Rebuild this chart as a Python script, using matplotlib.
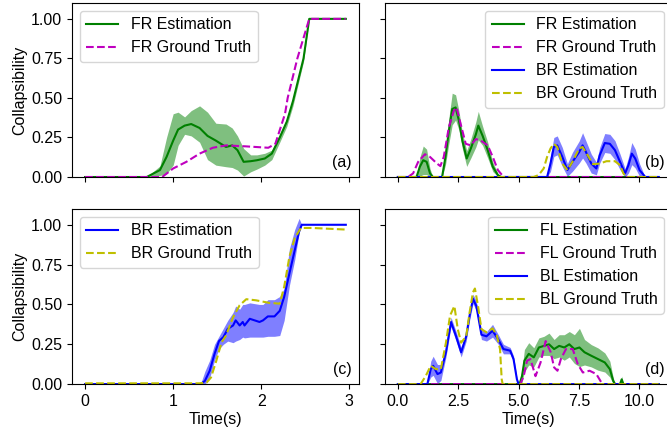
import numpy as np
import matplotlib
matplotlib.use("Agg")
import matplotlib.pyplot as plt

plt.rcParams['font.family'] = ['Liberation Sans', 'DejaVu Sans']
plt.rcParams['font.size'] = 11.5

# ---------------- (a) front right, short run ----------------
a_est_t = [0.0, 0.70, 0.85, 0.925, 1.0, 1.056, 1.13, 1.205, 1.30, 1.39, 1.485, 1.60, 1.67,
           1.73, 1.80, 1.88, 1.95, 2.04, 2.12, 2.21, 2.29, 2.36, 2.48, 2.545, 2.96]
a_est_v = [0.0, 0.0, 0.044, 0.127, 0.23, 0.30, 0.325, 0.335, 0.31, 0.26, 0.23, 0.19, 0.20,
           0.17, 0.096, 0.10, 0.106, 0.117, 0.148, 0.25, 0.35, 0.48, 0.75, 1.0, 1.0]
a_est_lo = [0.0, 0.0, 0.01, 0.02, 0.075, 0.20, 0.27, 0.26, 0.22, 0.11, 0.075, 0.065, 0.06,
            0.044, 0.006, 0.033, 0.05, 0.075, 0.11, 0.22, 0.32, 0.45, 0.73, 1.0, 1.0]
a_est_hi = [0.0, 0.0, 0.07, 0.25, 0.40, 0.41, 0.38, 0.42, 0.45, 0.41, 0.34, 0.335, 0.31,
            0.26, 0.18, 0.14, 0.14, 0.15, 0.17, 0.27, 0.37, 0.50, 0.77, 1.0, 1.0]
a_gt_t = [0.0, 0.875, 1.0, 1.15, 1.30, 1.45, 1.60, 1.82, 2.08, 2.16, 2.27, 2.30, 2.41, 2.545, 2.96]
a_gt_v = [0.0, 0.0, 0.054, 0.096, 0.148, 0.185, 0.20, 0.194, 0.185, 0.21, 0.40, 0.50, 0.75, 1.0, 1.0]

# ---------------- (b) right side, long run ----------------
b_fr_t = [0.0, 0.77, 0.91, 1.05, 1.19, 1.33, 1.45, 1.83, 1.97, 2.11, 2.25, 2.39, 2.53, 2.67,
          2.85, 3.02, 3.23, 3.33, 3.51, 3.72, 3.93, 4.14, 4.28, 10.8]
b_fr_v = [0.0, 0.0, 0.065, 0.106, 0.096, 0.023, 0.0, 0.0, 0.127, 0.29, 0.43, 0.44, 0.356, 0.23,
          0.117, 0.18, 0.27, 0.325, 0.26, 0.17, 0.065, 0.0125, 0.0, 0.0]
b_fr_sd = [0.0, 0.0, 0.06, 0.09, 0.08, 0.03, 0.0, 0.0, 0.05, 0.08, 0.10, 0.08, 0.06, 0.05,
           0.05, 0.06, 0.08, 0.09, 0.06, 0.05, 0.03, 0.01, 0.0, 0.0]
b_fr_gt_t = [0.0, 0.42, 0.63, 0.84, 1.12, 1.33, 1.62, 1.76, 1.90, 2.11, 2.32, 2.43, 2.60, 2.81,
             3.02, 3.23, 3.44, 3.72, 3.93, 4.14, 4.35, 4.45, 10.8]
b_fr_gt_v = [0.0, 0.0, 0.023, 0.096, 0.144, 0.127, 0.085, 0.069, 0.127, 0.315, 0.42, 0.44, 0.335,
             0.21, 0.20, 0.24, 0.23, 0.20, 0.127, 0.044, 0.006, 0.0, 0.0]
b_br_t = [0.0, 6.18, 6.32, 6.46, 6.60, 6.81, 7.02, 7.23, 7.51, 7.65, 7.79, 8.01, 8.22, 8.36,
          8.57, 8.78, 8.99, 9.20, 9.41, 9.55, 9.69, 9.83, 10.01, 10.18, 10.25, 10.8]
b_br_v = [0.0, 0.0, 0.085, 0.19, 0.20, 0.127, 0.044, 0.096, 0.158, 0.20, 0.158, 0.085, 0.054,
          0.1375, 0.215, 0.21, 0.17, 0.096, 0.023, 0.075, 0.148, 0.117, 0.044, 0.0125, 0.0, 0.0]
b_br_sd = [0.0, 0.0, 0.05, 0.06, 0.06, 0.06, 0.04, 0.06, 0.07, 0.08, 0.07, 0.06, 0.04, 0.05,
           0.06, 0.06, 0.06, 0.05, 0.03, 0.05, 0.07, 0.06, 0.04, 0.01, 0.0, 0.0]
b_br_gt_t = [0.0, 5.62, 5.83, 6.04, 6.18, 6.32, 6.46, 6.60, 6.81, 7.02, 7.23, 7.51, 7.65, 7.86,
             8.08, 8.36, 8.64, 8.99, 9.20, 9.34, 9.48, 10.8]
b_br_gt_v = [0.0, 0.0, 0.0125, 0.054, 0.127, 0.18, 0.21, 0.19, 0.085, 0.044, 0.096, 0.18, 0.19,
             0.1375, 0.081, 0.085, 0.10, 0.10, 0.075, 0.023, 0.0, 0.0]

# ---------------- (c) back right, short run ----------------
c_est_t = [0.0, 1.31, 1.36, 1.415, 1.47, 1.52, 1.57, 1.62, 1.68, 1.71, 1.755, 1.79, 1.81, 1.87,
           1.98, 2.02, 2.075, 2.15, 2.21, 2.26, 2.32, 2.38, 2.43, 2.46, 2.96]
c_est_v = [0.0, 0.0, 0.02, 0.084, 0.19, 0.27, 0.295, 0.347, 0.368, 0.40, 0.368, 0.39, 0.368,
           0.41, 0.39, 0.40, 0.425, 0.425, 0.46, 0.547, 0.695, 0.84, 0.958, 1.0, 1.0]
c_est_lo = [0.0, 0.0, 0.0, 0.04, 0.15, 0.22, 0.25, 0.27, 0.26, 0.27, 0.28, 0.295, 0.29, 0.295,
            0.295, 0.295, 0.30, 0.30, 0.305, 0.40, 0.62, 0.78, 0.95, 1.0, 1.0]
c_est_hi = [0.0, 0.0, 0.08, 0.15, 0.25, 0.30, 0.35, 0.40, 0.45, 0.49, 0.47, 0.50, 0.50, 0.51,
            0.50, 0.50, 0.53, 0.53, 0.55, 0.60, 0.85, 0.97, 1.04, 1.0, 1.0]
c_gt_t = [0.0, 1.30, 1.38, 1.43, 1.49, 1.55, 1.60, 1.68, 1.755, 1.83, 1.94, 2.09, 2.21, 2.26,
          2.32, 2.38, 2.45, 2.58, 2.96]
c_gt_v = [0.005, 0.005, 0.01, 0.042, 0.147, 0.263, 0.305, 0.42, 0.495, 0.533, 0.526, 0.51, 0.505,
          0.61, 0.80, 0.916, 0.98, 0.98, 0.97]

# ---------------- (d) left side, long run ----------------
d_fl_t = [0.0, 5.04, 5.14, 5.24, 5.42, 5.63, 5.84, 6.05, 6.26, 6.47, 6.68, 6.89, 7.10, 7.31,
          7.52, 7.73, 8.01, 8.29, 8.57, 8.78, 8.92, 9.0, 9.2, 9.27, 9.34, 10.8]
d_fl_v = [0.0, 0.0, 0.05, 0.147, 0.19, 0.168, 0.23, 0.24, 0.25, 0.22, 0.24, 0.23, 0.25, 0.22,
          0.23, 0.20, 0.178, 0.157, 0.136, 0.094, 0.02, 0.0, 0.0, 0.03, 0.0, 0.0]
d_fl_sd = [0.0, 0.0, 0.04, 0.07, 0.07, 0.06, 0.06, 0.06, 0.07, 0.06, 0.07, 0.08, 0.08, 0.09,
           0.12, 0.08, 0.07, 0.07, 0.06, 0.05, 0.02, 0.0, 0.0, 0.02, 0.0, 0.0]
d_fl_gt_t = [0.0, 5.07, 5.21, 5.35, 5.49, 5.70, 5.91, 6.12, 6.33, 6.47, 6.61, 6.75, 6.96, 7.24,
             7.45, 7.66, 7.94, 8.22, 8.43, 8.5, 10.8]
d_fl_gt_v = [0.0, 0.0, 0.05, 0.147, 0.157, 0.05, 0.136, 0.27, 0.20, 0.105, 0.084, 0.157, 0.22,
             0.22, 0.126, 0.073, 0.084, 0.063, 0.01, 0.0, 0.0]
d_bl_t = [0.0, 1.22, 1.36, 1.46, 1.64, 1.78, 1.99, 2.20, 2.41, 2.62, 2.83, 2.97, 3.11, 3.25,
          3.46, 3.67, 3.92, 4.16, 4.37, 4.65, 4.79, 4.93, 5.0, 10.8]
d_bl_v = [0.0, 0.0, 0.094, 0.115, 0.063, 0.073, 0.20, 0.39, 0.30, 0.20, 0.30, 0.43, 0.535, 0.49,
          0.31, 0.30, 0.335, 0.28, 0.22, 0.21, 0.157, 0.03, 0.0, 0.0]
d_bl_sd = [0.0, 0.0, 0.05, 0.06, 0.06, 0.05, 0.03, 0.03, 0.03, 0.03, 0.03, 0.03, 0.03, 0.03,
           0.03, 0.03, 0.04, 0.03, 0.03, 0.02, 0.02, 0.01, 0.0, 0.0]
d_bl_gt_t = [0.0, 0.94, 1.15, 1.36, 1.57, 1.78, 1.99, 2.16, 2.34, 2.48, 2.62, 2.83, 2.97, 3.11,
             3.19, 3.32, 3.46, 3.67, 3.92, 4.09, 4.23, 4.30, 4.34, 10.8]
d_bl_gt_v = [0.0, 0.0, 0.05, 0.115, 0.094, 0.094, 0.26, 0.43, 0.49, 0.345, 0.26, 0.30, 0.45,
             0.577, 0.60, 0.49, 0.345, 0.325, 0.35, 0.31, 0.22, 0.03, 0.0, 0.0]


def band(ax, t, v, sd, color):
    v, sd = np.array(v), np.array(sd)
    ax.fill_between(t, np.clip(v - sd, 0, None), v + sd, color=color, alpha=0.5, lw=0)


fig = plt.figure(figsize=(6.67, 4.36), dpi=100)
ax_a = fig.add_axes([0.108, 0.594, 0.430, 0.399])
ax_b = fig.add_axes([0.577, 0.594, 0.430, 0.399])
ax_c = fig.add_axes([0.108, 0.119, 0.430, 0.402])
ax_d = fig.add_axes([0.577, 0.119, 0.430, 0.402])

# (a)
ax_a.fill_between(a_est_t, a_est_lo, a_est_hi, color='g', alpha=0.5, lw=0)
ax_a.plot(a_est_t, a_est_v, 'g-', lw=1.5, label='FR Estimation')
ax_a.plot(a_gt_t, a_gt_v, 'm--', lw=1.5, label='FR Ground Truth')
ax_a.legend(loc='upper left')

# (b)
band(ax_b, b_fr_t, b_fr_v, b_fr_sd, 'g')
band(ax_b, b_br_t, b_br_v, b_br_sd, 'b')
ax_b.plot(b_fr_t, b_fr_v, 'g-', lw=1.5, label='FR Estimation')
ax_b.plot(b_fr_gt_t, b_fr_gt_v, 'm--', lw=1.5, label='FR Ground Truth')
ax_b.plot(b_br_t, b_br_v, 'b-', lw=1.5, label='BR Estimation')
ax_b.plot(b_br_gt_t, b_br_gt_v, 'y--', lw=1.5, label='BR Ground Truth')
ax_b.legend(loc='upper right')

# (c)
ax_c.fill_between(c_est_t, c_est_lo, c_est_hi, color='b', alpha=0.5, lw=0)
ax_c.plot(c_est_t, c_est_v, 'b-', lw=1.5, label='BR Estimation')
ax_c.plot(c_gt_t, c_gt_v, 'y--', lw=1.5, label='BR Ground Truth')
ax_c.legend(loc='upper left')

# (d)
band(ax_d, d_fl_t, d_fl_v, d_fl_sd, 'g')
band(ax_d, d_bl_t, d_bl_v, d_bl_sd, 'b')
ax_d.plot(d_fl_t, d_fl_v, 'g-', lw=1.5, label='FL Estimation')
ax_d.plot(d_fl_gt_t, d_fl_gt_v, 'm--', lw=1.5, label='FL Ground Truth')
ax_d.plot(d_bl_t, d_bl_v, 'b-', lw=1.5, label='BL Estimation')
ax_d.plot(d_bl_gt_t, d_bl_gt_v, 'y--', lw=1.5, label='BL Ground Truth')
ax_d.legend(loc='upper right')

for ax, tag in zip([ax_a, ax_b, ax_c, ax_d], ['(a)', '(b)', '(c)', '(d)']):
    ax.set_ylim(0, 1.1)
    ax.set_yticks([0, 0.25, 0.5, 0.75, 1.0])
    ax.text(0.975, 0.04, tag, transform=ax.transAxes, ha='right', va='bottom')

for ax in [ax_a, ax_c]:
    ax.set_xticks([0, 1, 2, 3])
    ax.set_ylabel('Collapsibility', labelpad=3)
    ax.set_yticklabels(['0.00', '0.25', '0.50', '0.75', '1.00'])
for ax in [ax_b, ax_d]:
    ax.set_xticks([0, 2.5, 5, 7.5, 10])
    ax.set_yticklabels([])
for ax in [ax_a, ax_b]:
    ax.set_xticklabels([])
ax_c.set_xlabel('Time(s)', labelpad=2)
ax_d.set_xlabel('Time(s)', labelpad=2)
ax_d.set_xticklabels(['0.0', '2.5', '5.0', '7.5', '10.0'])

fig.savefig('out.png', dpi=100)
